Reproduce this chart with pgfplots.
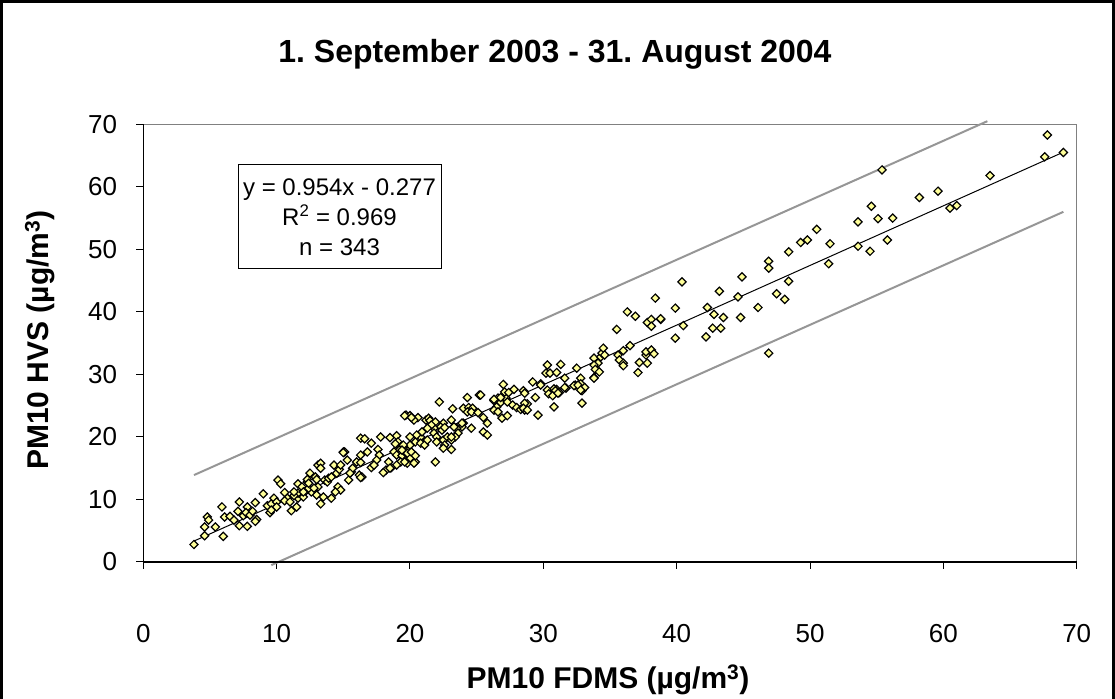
\documentclass[border=0pt]{standalone}
\usepackage{pgfplots}
\pgfplotsset{compat=1.18}
\usepackage{fontspec}
\setmainfont{Liberation Sans}
\frenchspacing
\definecolor{ptfill}{HTML}{FFFF99}
\definecolor{bandgray}{HTML}{969696}
\definecolor{framegray}{HTML}{808080}
\begin{document}
\begin{tikzpicture}
\useasboundingbox (0pt,0pt) rectangle (1115pt,698pt);
\draw[line width=2.5pt] (1.5pt,-20pt) -- (1.5pt,696.5pt) -- (1113.5pt,696.5pt) -- (1113.5pt,-20pt);
\begin{axis}[
  at={(143.3pt,136pt)}, anchor=origin,
  width=933.4pt, height=437.7pt, scale only axis,
  xmin=0, xmax=70, ymin=0, ymax=70,
  xtick={0,10,...,70}, ytick={0,10,...,70},
  xtick pos=left, ytick pos=left,
  axis line style={draw=framegray, line width=1.5pt},
  tick align=outside, major tick length=7pt,
  tick style={black, line width=1pt},
  /pgf/number format/assume math mode=true,
  xticklabel={\fontsize{26}{30}\selectfont\pgfmathprintnumber{\tick}},
  yticklabel={\fontsize{26}{30}\selectfont\pgfmathprintnumber{\tick}},
  xticklabel style={anchor=center, yshift=-65pt},
  yticklabel style={anchor=east, inner sep=0pt, xshift=-19pt},
  clip=false,
]
% bands
\addplot[bandgray, line width=2pt] coordinates {(3.8,13.9) (63.3,70.5)};
\addplot[bandgray, line width=2pt] coordinates {(9.6,-0.5) (69.0,56.0)};
% data
\addplot[only marks, mark=square*, mark size=2.9pt,
  mark options={rotate=45, fill=ptfill, draw=black, line width=1.2pt}]
table {
x y
3.8 2.8
4.6 4.2
4.6 5.6
4.8 7.2
4.9 6.7
5.4 5.6
6.0 4.1
5.9 8.8
6.1 7.2
6.5 7.3
6.8 6.7
7.2 5.8
7.1 8.1
7.2 9.6
7.5 7.4
7.8 8.8
7.8 5.7
7.7 7.9
8.0 7.5
8.2 8.1
8.4 9.5
8.5 6.8
8.4 6.5
9.0 10.9
9.3 9.0
9.5 7.9
9.6 9.3
9.8 10.2
10.0 9.6
10.0 8.8
9.6 8.3
10.1 13.1
10.3 12.5
10.6 11.1
10.8 10.2
10.6 9.8
11.0 9.6
11.1 8.2
11.5 8.8
11.6 10.2
11.6 11.0
11.3 10.6
11.3 11.2
11.6 12.5
11.9 12.0
12.1 11.2
12.0 10.4
12.3 12.8
12.5 14.2
12.9 13.6
13.0 12.0
13.1 15.5
13.0 10.7
12.6 11.2
12.4 11.8
13.3 9.3
13.3 15.8
13.3 15.0
13.0 13.2
13.1 12.0
12.3 13.2
12.4 12.6
12.8 11.8
13.5 10.4
14.1 10.2
14.6 12.0
14.8 11.5
14.4 11.2
12.0 11.2
13.6 13.1
13.8 12.8
13.9 13.4
14.1 13.6
14.5 14.2
14.3 15.5
14.7 14.8
14.8 15.5
15.0 17.6
15.1 17.6
15.4 13.1
15.3 16.3
15.6 14.4
15.7 15.0
16.0 16.0
16.2 13.9
16.4 13.6
16.3 15.9
16.3 17.1
16.8 17.6
16.3 19.8
16.6 19.7
17.1 19.0
17.8 20.0
18.5 19.9
19.0 20.2
19.1 19.2
18.9 18.9
19.3 18.4
19.5 18.2
19.2 17.9
18.8 17.6
19.0 17.1
19.4 17.0
19.7 17.4
19.9 17.9
20.0 16.6
20.4 16.0
19.8 15.8
19.3 16.0
19.0 15.5
18.6 15.1
18.2 14.7
18.0 14.3
17.6 18.0
17.7 17.1
17.5 16.3
17.1 15.1
17.3 15.5
15.0 17.5
18.4 16.0
18.5 15.0
16.3 13.5
15.5 14.2
19.7 23.5
20.0 23.4
20.6 23.1
20.3 22.7
21.2 22.7
20.8 20.0
20.1 23.1
19.6 23.4
21.4 23.0
21.5 22.6
20.9 20.8
20.5 20.3
20.0 20.0
20.4 19.2
20.8 19.0
21.1 18.7
21.3 19.5
20.0 18.7
19.5 18.7
19.4 17.9
19.8 17.4
20.1 17.6
20.4 17.0
20.3 15.8
19.6 16.0
21.9 16.0
22.2 25.6
24.3 26.3
25.2 26.7
23.2 24.5
24.0 24.6
24.4 24.7
24.7 24.6
24.3 24.0
24.6 24.0
25.1 23.9
26.3 25.8
26.6 26.2
26.8 25.5
27.0 26.4
27.2 26.2
27.3 25.6
26.5 24.8
26.3 24.3
26.6 24.0
27.7 25.1
28.0 24.7
28.3 24.4
28.6 24.3
28.8 25.3
25.5 23.1
25.8 22.2
25.5 20.8
25.8 20.3
26.9 23.0
27.3 23.4
24.6 21.4
24.0 22.2
23.9 21.6
23.5 21.4
23.6 20.6
23.4 20.0
23.1 22.7
22.5 22.2
22.3 21.6
22.4 21.1
21.9 22.4
21.8 21.4
21.8 20.6
22.0 20.0
22.0 19.2
22.5 19.5
22.8 20.0
23.1 19.5
22.6 18.7
23.1 18.0
22.5 18.2
21.6 21.9
22.6 21.5
23.3 21.6
23.9 22.2
23.1 20.0
21.3 21.4
25.3 26.7
27.0 28.4
27.1 27.2
27.4 27.1
27.8 27.6
26.3 26.0
26.8 26.3
29.4 26.3
28.5 27.4
28.6 27.0
29.2 28.8
29.8 28.5
30.3 27.5
31.0 27.6
31.2 27.1
30.7 27.0
30.3 31.5
30.2 30.2
30.5 30.2
31.0 30.3
31.3 31.6
31.6 29.4
31.7 27.8
32.4 28.3
32.8 29.4
32.5 31.0
32.8 28.5
32.9 27.4
33.1 27.9
33.8 29.5
33.8 32.6
34.1 31.8
33.8 31.5
33.9 30.8
34.2 30.4
34.3 32.8
34.4 33.4
34.5 34.2
34.6 33.1
35.5 37.2
35.6 33.1
35.7 32.3
36.0 31.8
36.0 31.4
36.0 33.8
36.5 34.6
36.3 40.0
36.9 39.3
37.1 30.3
37.2 31.9
37.7 33.1
37.7 33.6
37.8 31.8
38.1 33.9
38.3 33.3
37.8 38.3
38.1 38.8
38.1 37.7
38.8 38.8
38.4 42.2
30.8 27.7
30.9 27.4
31.6 27.9
32.3 28.2
32.6 28.3
32.8 27.5
30.4 26.9
30.7 26.6
31.1 27.0
29.8 28.3
28.6 25.4
28.5 24.6
28.8 24.3
29.6 23.5
30.8 24.8
32.9 25.4
33.8 29.4
40.4 44.8
39.9 40.6
40.5 37.8
39.9 35.8
38.8 38.9
42.2 36.0
42.3 40.7
42.8 39.6
42.7 37.4
43.3 37.4
43.5 39.1
43.2 43.3
44.6 42.4
44.8 39.1
44.9 45.6
46.1 40.7
46.9 33.4
46.9 48.1
46.9 47.0
47.5 42.9
48.1 42.0
48.4 44.9
48.4 49.6
49.3 51.1
49.8 51.5
50.5 53.2
51.5 50.9
51.4 47.7
53.6 54.4
53.6 50.5
55.4 62.7
54.6 56.9
55.1 54.9
56.2 55.0
54.5 49.7
55.8 51.5
58.2 58.3
59.6 59.3
60.5 56.6
61.0 57.0
63.5 61.8
67.8 68.3
67.6 64.8
69.0 65.5
};
% trend line
\addplot[black, line width=1pt] coordinates {(3.8,3.35) (69.0,65.55)};
% black axes on left and bottom
\draw[black, line width=1.5pt] (rel axis cs:0,1) -- (rel axis cs:0,0) -- (rel axis cs:1,0);
\end{axis}
% title
\node at (555pt,644pt) {\fontsize{32}{38}\selectfont\bfseries 1. September 2003 - 31. August 2004};
% axis labels
\node at (608pt,18pt) {\fontsize{30}{36}\selectfont\bfseries PM10 FDMS (µg/m\textsuperscript{3})};
\node[rotate=90] at (40pt,358pt) {\fontsize{30}{36}\selectfont\bfseries PM10 HVS (µg/m\textsuperscript{3})};
% equation box
\node[draw=black, line width=1pt, fill=white, minimum width=203pt, minimum height=104pt,
  align=center, inner sep=0pt, font=\fontsize{24}{30}\selectfont]
  at (339.5pt,481pt) {y = 0.954x - 0.277\\R\textsuperscript{2} = 0.969\\n = 343};
\end{tikzpicture}
\end{document}
